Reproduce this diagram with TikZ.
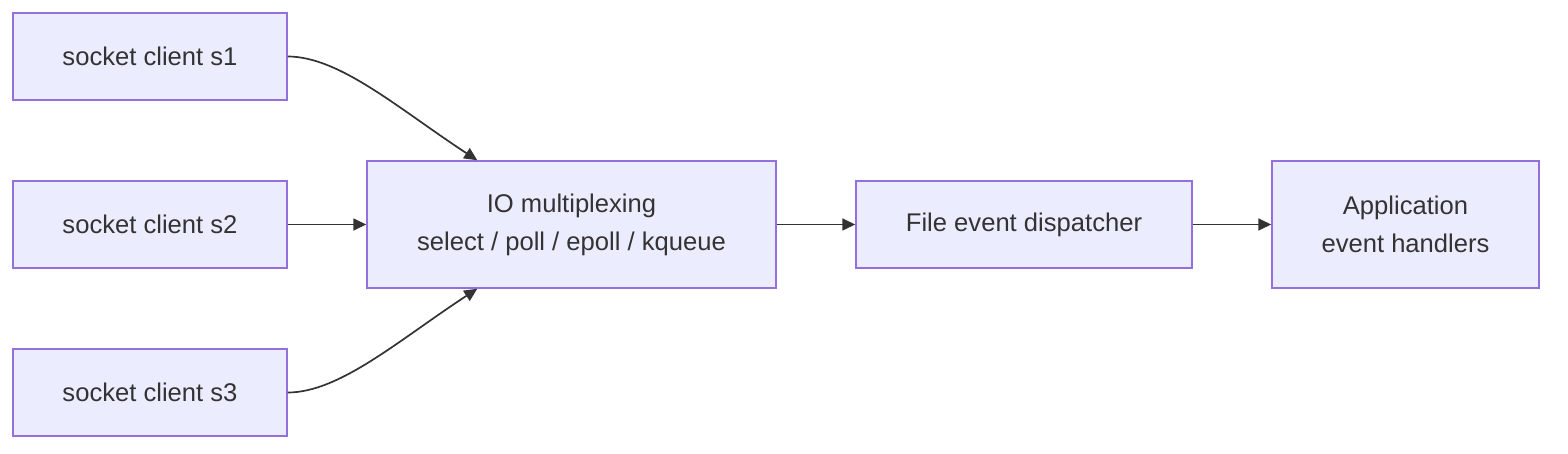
\documentclass[tikz,border=0pt]{standalone}
\usepackage{fontspec}
\setmainfont{Liberation Sans}
\usepackage{xcolor}
\usetikzlibrary{arrows.meta}
\definecolor{boxfill}{HTML}{ECECFF}
\definecolor{boxline}{HTML}{9370DB}
\definecolor{ink}{HTML}{333333}
\begin{document}
\begin{tikzpicture}[x=0.5pt,y=-0.5pt,
    box/.style={draw=boxline,fill=boxfill,line width=0.75pt,inner sep=0pt,align=center,text=ink,font=\fontsize{12.8}{19}\selectfont},
    flow/.style={draw=ink,line width=0.85pt,-{Triangle[length=6.5pt,width=6pt]}}]
            \useasboundingbox (0,0) rectangle (1568,454);
            \node (s1) at (150,56.5) [box,minimum width=137pt,minimum height=43.5pt] {socket client s1};
            \node (s2) at (150,224.5) [box,minimum width=137pt,minimum height=43.5pt] {socket client s2};
            \node (s3) at (150,392.5) [box,minimum width=137pt,minimum height=43.5pt] {socket client s3};
            \node (io) at (571.5,224.5) [box,minimum width=204.5pt,minimum height=63.5pt] {IO multiplexing\\select / poll / epoll / kqueue};
            \node (fed) at (1024,224.5) [box,minimum width=168pt,minimum height=43.5pt] {File event dispatcher};
            \node (app) at (1405.5,224.5) [box,minimum width=133.5pt,minimum height=63.5pt] {Application\\event handlers};
            \draw[flow] (s1.east) .. controls +(26pt,0) and +(-39pt,25.5pt) .. ([xshift=55.5pt]io.north west);
            \draw[flow] (s3.east) .. controls +(26pt,0) and +(-39pt,-25.5pt) .. ([xshift=55.5pt]io.south west);
            \draw[flow] (s2) -- (io);
            \draw[flow] (io) -- (fed);
            \draw[flow] (fed) -- (app);
        \end{tikzpicture}
\end{document}
